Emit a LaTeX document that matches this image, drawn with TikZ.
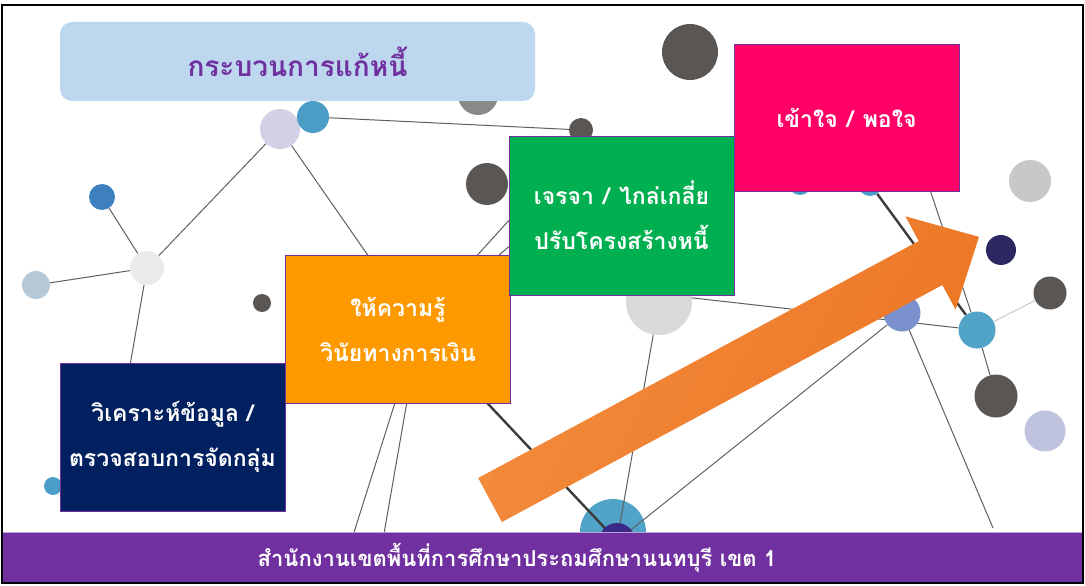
\documentclass[tikz,border=0pt]{standalone}
\usepackage{fontspec}
\newfontfamily\thaifont[Script=Thai]{Loma}
\newcommand\slashgap{\hspace{.4em}/\hspace{.4em}}
\definecolor{linkgray}{RGB}{95,95,95}
\definecolor{linkdark}{RGB}{60,60,60}
\definecolor{boxedge}{RGB}{112,48,160}
\definecolor{titleblue}{RGB}{189,215,238}
\definecolor{titlepurple}{RGB}{112,48,160}
\definecolor{bandpurple}{RGB}{112,48,160}
\definecolor{bandtop}{RGB}{190,160,220}
\definecolor{navybox}{RGB}{0,32,96}
\definecolor{orangebox}{RGB}{255,153,0}
\definecolor{greenbox}{RGB}{0,176,80}
\definecolor{pinkbox}{RGB}{255,0,102}
\definecolor{arrowlight}{RGB}{243,140,62}
\definecolor{arrowdark}{RGB}{236,118,36}
\definecolor{dkgray}{RGB}{90,86,84}
\definecolor{midgray}{RGB}{138,138,138}
\definecolor{ltgray}{RGB}{217,217,217}
\definecolor{palegray}{RGB}{235,235,235}
\definecolor{silver}{RGB}{200,200,200}
\definecolor{lavender}{RGB}{211,209,230}
\definecolor{lilac}{RGB}{191,195,221}
\definecolor{skyblue}{RGB}{75,157,200}
\definecolor{steelblue}{RGB}{62,127,191}
\definecolor{bluegray}{RGB}{181,200,216}
\definecolor{periwinkle}{RGB}{123,145,206}
\definecolor{tealblue}{RGB}{82,163,200}
\definecolor{inkblue}{RGB}{44,40,97}
\definecolor{deeppurple}{RGB}{59,42,133}
\pgfdeclarelayer{back}
\pgfsetlayers{back,main}

\begin{document}
\begin{tikzpicture}[x=1pt,y=-1pt,
    ball/.style 2 args={circle,fill=#1,minimum size=#2,inner sep=0pt},
    link/.style={draw=linkgray,line width=1pt},
    boldlink/.style={draw=linkdark,line width=2.4pt},
    stepbox/.style={draw=boxedge,line width=0.8pt,text=white,align=center,
        minimum width=225pt,minimum height=148pt,inner sep=0pt,
        font=\thaifont\bfseries\fontsize{23}{45}\selectfont}]
  \useasboundingbox (0,0) rectangle (1085,586);

  % network of dots
  \node[ball={lavender}{40}]   (d1)  at (280,129) {};
  \node[ball={skyblue}{32}]    (d2)  at (313,117) {};
  \node[ball={midgray}{40}]    (d3)  at (478,95)  {};
  \node[ball={dkgray}{42}]     (d4)  at (487,184) {};
  \node[ball={steelblue}{26}]  (d5)  at (102,197) {};
  \node[ball={palegray}{34}]   (d6)  at (147,268) {};
  \node[ball={bluegray}{28}]   (d7)  at (36,285)  {};
  \node[ball={dkgray}{18}]     (d8)  at (262,303) {};
  \node[ball={skyblue}{18}]    (d9)  at (53,486)  {};
  \node[ball={dkgray}{56}]     (d10) at (690,52)  {};
  \node[ball={dkgray}{24}]     (d11) at (581,130) {};
  \node[ball={skyblue}{24}]    (d12) at (800,183) {};
  \node[ball={skyblue}{24}]    (d13) at (870,184) {};
  \node[ball={silver}{42}]     (d14) at (1030,181) {};
  \node[ball={inkblue}{30}]    (d15) at (1001,250) {};
  \node[ball={dkgray}{33}]     (d16) at (1050,293) {};
  \node[ball={ltgray}{66}]     (d17) at (659,302) {};
  \node[ball={periwinkle}{37}] (d18) at (902,313) {};
  \node[ball={tealblue}{37}]   (d19) at (977,330) {};
  \node[ball={dkgray}{43}]     (d20) at (996,396) {};
  \node[ball={lilac}{41}]      (d21) at (1045,431) {};
  \node[ball={tealblue}{66}]   (d22) at (613,532) {};

  % loose ends hidden under the boxes
  \coordinate (h1)  at (124,400);
  \coordinate (h2)  at (399,300);
  \coordinate (h3)  at (455,280);
  \coordinate (h3e) at (530,197);
  \coordinate (h4)  at (470,280);
  \coordinate (h4e) at (540,220);
  \coordinate (h5)  at (399,390);
  \coordinate (h5e) at (350,545);
  \coordinate (h6)  at (409,390);
  \coordinate (h6e) at (382,545);
  \coordinate (h7)  at (475,390);
  \coordinate (h8)  at (640,292);
  \coordinate (h9)  at (925,175);
  \coordinate (h10) at (993,528);
  \coordinate (hub) at (617,541);

  \begin{pgfonlayer}{back}
    \fill[white] (0,0) rectangle (1085,586);
    \draw[link] (d7) -- (d6);
    \draw[link] (d5) -- (d6);
    \draw[link] (d6) -- (d1);
    \draw[link] (d6) -- (h1);
    \draw[link] (d1) -- (h2);
    \draw[link] (d2) -- (d11);
    \draw[link] (h3) -- (h3e);
    \draw[link] (h4) -- (h4e);
    \draw[link] (h5) -- (h5e);
    \draw[link] (h6) -- (h6e);
    \draw[link] (h8) -- (d19);
    \draw[link] (h9) -- (d19);
    \draw[boldlink] (d13) -- (d19);
    \draw[link,draw=silver] (d19) -- (d16);
    \draw[link] (d19) -- (d20);
    \draw[link] (d18) -- (h10);
  \end{pgfonlayer}

  \draw[link] (d17) -- (hub);
  \draw[link] (d18) -- (hub);
  \draw[boldlink] (h7) -- (hub);
  \node[ball={deeppurple}{36}] (d23) at (hub) {};

  % title and steps
  \node[fill=titleblue,rounded corners=12pt,minimum width=475pt,
        minimum height=79pt,text=titlepurple,
        font=\thaifont\bfseries\fontsize{28}{34}\selectfont]
        (title) at (297.5,61.5) {กระบวนการแก้หนี้};
  \node[stepbox,fill=navybox]   (check) at (172.5,437)
        {วิเคราะห์ข้อมูล /\\ตรวจสอบการจัดกลุ่ม};
  \node[stepbox,fill=orangebox] (teach) at (398,329)
        {ให้ความรู้\\วินัยทางการเงิน};
  \node[stepbox,fill=greenbox,minimum height=159pt] (talk) at (621.5,215.5)
        {เจรจา\slashgap ไกล่เกลี่ย\\ปรับโครงสร้างหนี้};
  \node[stepbox,fill=pinkbox,minimum height=147pt] (agree) at (846.5,117.5)
        {เข้าใจ\slashgap พอใจ};

  % big arrow
  \shade[left color=arrowlight,right color=arrowdark,shading angle=62]
        (478.2,478.0) -- (918.7,241.0) -- (905.4,216.3) -- (979,236.9)
        -- (955.6,309.7) -- (942.4,285.0) -- (501.9,522.0) -- cycle;

  % footer band
  \node[fill=bandpurple,minimum width=1080pt,minimum height=49pt]
        (band) at (542.5,557.5) {};
  \draw[bandtop,line width=1pt] (band.north west) -- (band.north east);
  \node[text=white,font=\thaifont\bfseries\fontsize{22}{26}\selectfont]
        (office) at (517,557.5)
        {สำนักงานเขตพื้นที่การศึกษาประถมศึกษานนทบุรี เขต 1};
  \draw[black,line width=2pt] (2,5) rectangle (1083,583);
\end{tikzpicture}
\end{document}
